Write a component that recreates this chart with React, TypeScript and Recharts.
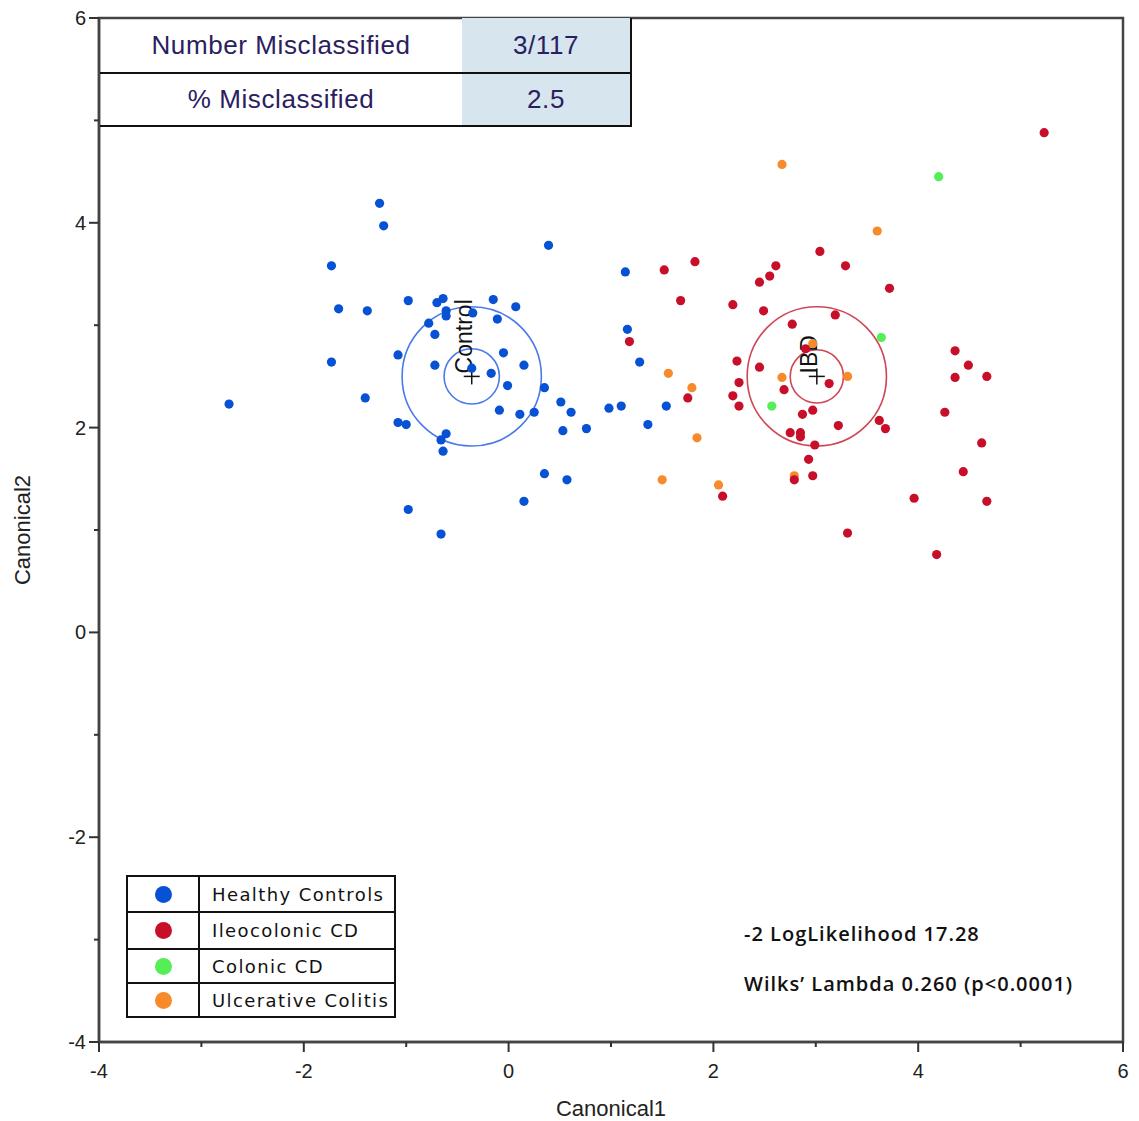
import React from 'react';
import { ScatterChart, Scatter, XAxis, YAxis, ReferenceArea, ReferenceDot } from 'recharts';

// canonical scores
const healthyControls = [
  { x: -2.73, y: 2.23 }, { x: -1.26, y: 4.19 }, { x: -1.22, y: 3.97 }, { x: -1.73, y: 3.58 },
  { x: -1.66, y: 3.16 }, { x: -1.38, y: 3.14 }, { x: -1.73, y: 2.64 }, { x: -1.40, y: 2.29 },
  { x: -1.08, y: 2.71 }, { x: -0.98, y: 3.24 }, { x: -1.08, y: 2.05 }, { x: -1.00, y: 2.03 },
  { x: -0.98, y: 1.20 }, { x: -0.66, y: 0.96 }, { x: -0.78, y: 3.02 }, { x: -0.70, y: 3.22 },
  { x: -0.64, y: 3.26 }, { x: -0.61, y: 3.14 }, { x: -0.61, y: 3.09 }, { x: -0.72, y: 2.91 },
  { x: -0.72, y: 2.61 }, { x: -0.61, y: 1.94 }, { x: -0.66, y: 1.88 }, { x: -0.64, y: 1.77 },
  { x: -0.35, y: 3.12 }, { x: -0.36, y: 2.58 }, { x: -0.17, y: 2.53 }, { x: -0.15, y: 3.25 },
  { x: -0.11, y: 3.06 }, { x: -0.05, y: 2.73 }, { x: -0.01, y: 2.41 }, { x: -0.09, y: 2.17 },
  { x: 0.07, y: 3.18 }, { x: 0.15, y: 2.61 }, { x: 0.11, y: 2.13 }, { x: 0.25, y: 2.15 },
  { x: 0.35, y: 2.39 }, { x: 0.39, y: 3.78 }, { x: 0.51, y: 2.25 }, { x: 0.61, y: 2.15 },
  { x: 0.53, y: 1.97 }, { x: 0.76, y: 1.99 }, { x: 0.35, y: 1.55 }, { x: 0.57, y: 1.49 },
  { x: 0.15, y: 1.28 }, { x: 0.98, y: 2.19 }, { x: 1.10, y: 2.21 }, { x: 1.14, y: 3.52 },
  { x: 1.16, y: 2.96 }, { x: 1.28, y: 2.64 }, { x: 1.54, y: 2.21 }, { x: 1.36, y: 2.03 },
];

const ileocolonicCD = [
  { x: 1.52, y: 3.54 }, { x: 1.82, y: 3.62 }, { x: 1.68, y: 3.24 }, { x: 1.18, y: 2.84 },
  { x: 1.75, y: 2.29 }, { x: 2.09, y: 1.33 }, { x: 2.19, y: 3.20 }, { x: 2.45, y: 3.42 },
  { x: 2.55, y: 3.48 }, { x: 2.61, y: 3.58 }, { x: 3.04, y: 3.72 }, { x: 3.29, y: 3.58 },
  { x: 3.72, y: 3.36 }, { x: 2.49, y: 3.14 }, { x: 3.19, y: 3.10 }, { x: 2.77, y: 3.01 },
  { x: 2.23, y: 2.65 }, { x: 2.45, y: 2.59 }, { x: 2.90, y: 2.77 }, { x: 2.25, y: 2.44 },
  { x: 2.19, y: 2.31 }, { x: 2.25, y: 2.21 }, { x: 2.69, y: 2.37 }, { x: 3.13, y: 2.43 },
  { x: 2.87, y: 2.13 }, { x: 2.97, y: 2.17 }, { x: 3.22, y: 2.02 }, { x: 2.75, y: 1.95 },
  { x: 2.85, y: 1.95 }, { x: 2.85, y: 1.91 }, { x: 2.99, y: 1.83 }, { x: 3.62, y: 2.07 },
  { x: 3.68, y: 1.99 }, { x: 2.93, y: 1.69 }, { x: 2.97, y: 1.53 }, { x: 2.79, y: 1.49 },
  { x: 3.31, y: 0.97 }, { x: 5.23, y: 4.88 }, { x: 4.36, y: 2.75 }, { x: 4.49, y: 2.61 },
  { x: 4.36, y: 2.49 }, { x: 4.67, y: 2.50 }, { x: 4.26, y: 2.15 }, { x: 4.62, y: 1.85 },
  { x: 4.44, y: 1.57 }, { x: 3.96, y: 1.31 }, { x: 4.67, y: 1.28 }, { x: 4.18, y: 0.76 },
];

const colonicCD = [
  { x: 4.20, y: 4.45 }, { x: 3.64, y: 2.88 }, { x: 2.57, y: 2.21 },
];

const ulcerativeColitis = [
  { x: 2.67, y: 4.57 }, { x: 3.60, y: 3.92 }, { x: 2.97, y: 2.82 }, { x: 2.67, y: 2.49 },
  { x: 3.31, y: 2.50 }, { x: 1.56, y: 2.53 }, { x: 1.79, y: 2.39 }, { x: 1.84, y: 1.90 },
  { x: 1.50, y: 1.49 }, { x: 2.05, y: 1.44 }, { x: 2.79, y: 1.53 },
];

// group means with inner / outer circle radii (canonical units)
const groupCentroids = [
  { name: 'Control', x: -0.36, y: 2.5, innerR: 0.27, outerR: 0.68 },
  { name: 'IBD', x: 3.01, y: 2.5, innerR: 0.26, outerR: 0.68 },
];

const axisTicks = [-4, -3, -2, -1, 0, 1, 2, 3, 4, 5, 6];
const legendItems = ['Healthy Controls', 'Ileocolonic CD', 'Colonic CD', 'Ulcerative Colitis'];
const summaryRows = [
  ['Number Misclassified', '3/117'],
  ['% Misclassified', '2.5'],
];
const fitStats = ['-2 LogLikelihood 17.28', 'Wilks\u2019 Lambda 0.260 (p<0.0001)'];

const COLORS = ['#0651d4', '#c80f2a', '#55ee55', '#f78b2c'];
const CIRCLE_COLORS = ['#4a7be6', '#d04656'];
const PX_PER_UNIT = 102.4;
const TICK_SIZE = 10;
const TICK_MARGIN = 4;
const AXIS_FONT = '"Liberation Sans", Arial, sans-serif';

const Dot = (color: string) => (props: any) => (
  <circle cx={props.cx} cy={props.cy} r={4.6} fill={color} />
);

const XTick = (props: any) => {
  const { x, y, payload } = props;
  const axisY = y - TICK_SIZE - TICK_MARGIN;
  const major = payload.value % 2 === 0;
  return (
    <g>
      <line x1={x} x2={x} y1={axisY} y2={axisY + (major ? 10 : 5)} stroke="#333" strokeWidth={2} />
      {major && (
        <text x={x} y={axisY + 36} textAnchor="middle" fontSize={20} fontFamily={AXIS_FONT} fill="#222">
          {payload.value}
        </text>
      )}
    </g>
  );
};

const YTick = (props: any) => {
  const { x, y, payload } = props;
  const axisX = x + TICK_SIZE + TICK_MARGIN;
  const major = payload.value % 2 === 0;
  return (
    <g>
      <line x1={axisX} x2={axisX - (major ? 10 : 5)} y1={y} y2={y} stroke="#333" strokeWidth={2} />
      {major && (
        <text x={axisX - 13} y={y + 7} textAnchor="end" fontSize={20} fontFamily={AXIS_FONT} fill="#222">
          {payload.value}
        </text>
      )}
    </g>
  );
};

const Centroid = (name: string, innerR: number, outerR: number, color: string) => (props: any) => {
  const { cx, cy } = props;
  return (
    <g>
      <circle cx={cx} cy={cy} r={outerR * PX_PER_UNIT} fill="none" stroke={color} strokeWidth={1.6} />
      <circle cx={cx} cy={cy} r={innerR * PX_PER_UNIT} fill="none" stroke={color} strokeWidth={1.6} />
      <line x1={cx - 8} x2={cx + 8} y1={cy} y2={cy} stroke="#111" strokeWidth={1.5} />
      <line x1={cx} x2={cx} y1={cy - 8} y2={cy + 8} stroke="#111" strokeWidth={1.5} />
      <text
        x={cx}
        y={cy}
        transform={`rotate(-90 ${cx} ${cy})`}
        dx={3}
        dy={0}
        fontSize={23}
        fontFamily={AXIS_FONT}
        fill="#111"
      >
        {name}
      </text>
    </g>
  );
};

export default function App() {
  const series = [healthyControls, ileocolonicCD, colonicCD, ulcerativeColitis];
  const drawOrder = [0, 3, 2, 1];
  return (
    <div style={{ position: 'absolute', left: 0, top: 0, width: 1139, height: 1121, background: '#fff' }}>
      <ScatterChart width={1139} height={1121} margin={{ top: 18, right: 16, bottom: 0, left: 0 }}>
        <XAxis
          type="number"
          dataKey="x"
          domain={[-4, 6]}
          ticks={axisTicks}
          interval={0}
          tickSize={TICK_SIZE}
          tickMargin={TICK_MARGIN}
          tickLine={false}
          tick={(p: any) => <XTick {...p} />}
          axisLine={{ stroke: '#444', strokeWidth: 2.5 }}
          height={79}
          label={{
            value: 'Canonical1',
            position: 'insideBottom',
            offset: 5,
            style: { fontSize: 22, fontFamily: AXIS_FONT, fill: '#222' },
          }}
        />
        <YAxis
          type="number"
          dataKey="y"
          domain={[-4, 6]}
          ticks={axisTicks}
          interval={0}
          tickSize={TICK_SIZE}
          tickMargin={TICK_MARGIN}
          tickLine={false}
          tick={(p: any) => <YTick {...p} />}
          axisLine={{ stroke: '#444', strokeWidth: 2.5 }}
          width={99}
          label={{
            value: 'Canonical2',
            angle: -90,
            position: 'insideLeft',
            offset: 22,
            style: { fontSize: 22, fontFamily: AXIS_FONT, fill: '#222', textAnchor: 'middle' },
          }}
        />
        <ReferenceArea x1={-4} x2={6} y1={-4} y2={6} fill="none" stroke="#444" strokeWidth={2.5} />
        {groupCentroids.map((c, i) => (
          <ReferenceDot
            key={c.name}
            x={c.x}
            y={c.y}
            r={1}
            shape={Centroid(c.name, c.innerR, c.outerR, CIRCLE_COLORS[i])}
          />
        ))}
        {drawOrder.map((i) => (
          <Scatter
            key={legendItems[i]}
            name={legendItems[i]}
            data={series[i]}
            shape={Dot(COLORS[i])}
            isAnimationActive={false}
          />
        ))}
      </ScatterChart>

      {/* misclassification table, top-left */}
      <div style={{ position: 'absolute', left: 100, top: 18, width: 530, borderRight: '2px solid #111', borderBottom: '2px solid #111' }}>
        {summaryRows.map((row, i) => (
          <div
            key={row[0]}
            style={{
              display: 'flex',
              height: i === 0 ? 54 : 51,
              borderBottom: i === 0 ? '2px solid #111' : 'none',
              fontFamily: AXIS_FONT,
              fontSize: 26,
              letterSpacing: 0.6,
              color: '#2a2060',
            }}
          >
            <div style={{ width: 362, display: 'flex', alignItems: 'center', justifyContent: 'center' }}>{row[0]}</div>
            <div style={{ flex: 1, background: '#d6e5ee', display: 'flex', alignItems: 'center', justifyContent: 'center' }}>{row[1]}</div>
          </div>
        ))}
      </div>

      {/* legend box, bottom-left */}
      <div style={{ position: 'absolute', left: 126, top: 875, width: 266, border: '2px solid #111' }}>
        {legendItems.map((name, i) => (
          <div
            key={name}
            style={{
              display: 'flex',
              height: i === 0 ? 34 : i === 1 ? 35 : 32,
              borderTop: i === 0 ? 'none' : '2px solid #111',
              fontFamily: '"DejaVu Sans", Verdana, sans-serif',
              fontSize: 18,
              letterSpacing: 1.4,
              color: '#111',
            }}
          >
            <div style={{ width: 70, borderRight: '2px solid #111', display: 'flex', alignItems: 'center', justifyContent: 'center' }}>
              <div style={{ width: 17, height: 17, borderRadius: '50%', background: COLORS[i] }} />
            </div>
            <div style={{ paddingLeft: 12, display: 'flex', alignItems: 'center' }}>{name}</div>
          </div>
        ))}
      </div>

      {/* fit statistics */}
      {fitStats.map((t, i) => (
        <div
          key={t}
          style={{
            position: 'absolute',
            left: 744,
            top: 920 + i * 50,
            fontFamily: '"Open Sans", sans-serif',
            fontWeight: 600,
            fontSize: 20,
            letterSpacing: 1,
            color: '#111',
            whiteSpace: 'nowrap',
          }}
        >
          {t}
        </div>
      ))}
    </div>
  );
}
